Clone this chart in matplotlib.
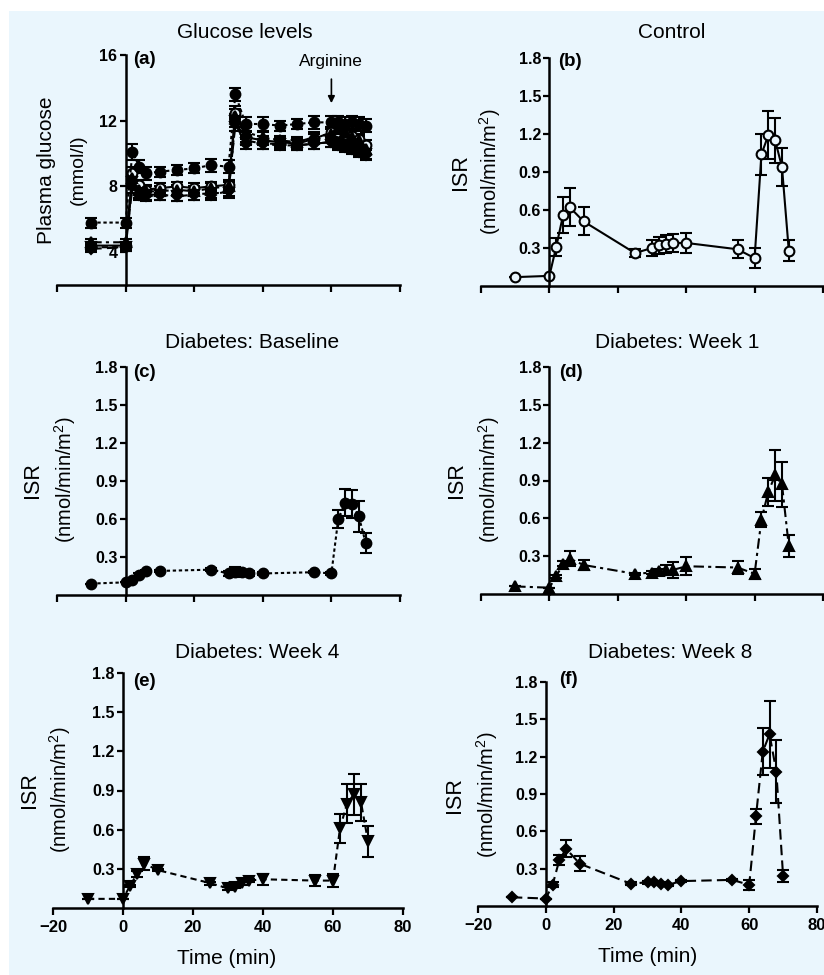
import matplotlib
matplotlib.use("Agg")
import matplotlib.pyplot as plt
from matplotlib.patches import Rectangle

plt.rcParams['font.family'] = ['Liberation Sans', 'DejaVu Sans']
plt.rcParams['mathtext.fontset'] = 'custom'
plt.rcParams['mathtext.rm'] = 'Liberation Sans'
plt.rcParams['mathtext.it'] = 'Liberation Sans:italic'

W, H = 824, 975
BG = '#EAF6FD'

# ---- glucose (panel a) ----
glu_time = [-10, 0, 2, 4, 6, 10, 15, 20, 25, 30, 32, 35, 40, 45, 50, 55, 60, 62, 64, 66, 68, 70]
glu_control = [4.4, 4.4, 8.8, 8.1, 7.8, 7.9, 8.0, 7.9, 8.0, 8.1, 12.5, 11.0, 10.8, 10.7, 10.6, 10.9, 11.3, 11.3, 11.2, 11.1, 10.9, 10.5]
glu_control_err = [0.2, 0.2, 0.4, 0.3, 0.3, 0.3, 0.3, 0.3, 0.3, 0.3, 0.4, 0.3, 0.3, 0.3, 0.3, 0.3, 0.3, 0.3, 0.3, 0.3, 0.3, 0.3]
glu_base = [5.8, 5.8, 10.1, 9.2, 8.8, 8.9, 9.0, 9.1, 9.3, 9.2, 13.6, 11.8, 11.8, 11.7, 11.8, 11.9, 11.9, 11.9, 11.8, 11.9, 11.8, 11.7]
glu_base_err = [0.3, 0.3, 0.5, 0.4, 0.4, 0.3, 0.3, 0.3, 0.4, 0.4, 0.4, 0.4, 0.4, 0.3, 0.3, 0.4, 0.4, 0.4, 0.4, 0.4, 0.4, 0.4]
glu_wk1 = [4.6, 4.6, 8.5, 7.8, 7.7, 7.7, 7.8, 7.7, 7.9, 8.0, 12.3, 11.3, 11.0, 10.8, 10.7, 11.0, 11.2, 11.5, 11.3, 11.0, 10.8, 10.3]
glu_wk1_err = [0.2, 0.2, 0.4, 0.3, 0.3, 0.3, 0.3, 0.3, 0.3, 0.3, 0.4, 0.3, 0.3, 0.3, 0.3, 0.3, 0.4, 0.4, 0.4, 0.4, 0.3, 0.3]
glu_wk4 = [4.3, 4.3, 8.3, 7.6, 7.5, 7.5, 7.4, 7.5, 7.6, 7.6, 12.0, 10.8, 10.6, 10.6, 10.5, 10.6, 10.7, 10.6, 10.5, 10.4, 10.2, 10.0]
glu_wk4_err = [0.2, 0.2, 0.4, 0.3, 0.3, 0.3, 0.3, 0.3, 0.3, 0.3, 0.4, 0.3, 0.3, 0.3, 0.3, 0.3, 0.3, 0.3, 0.3, 0.3, 0.3, 0.3]
glu_wk8 = [4.2, 4.3, 8.0, 7.5, 7.4, 7.5, 7.4, 7.5, 7.5, 7.7, 11.8, 10.6, 10.6, 10.5, 10.5, 10.6, 10.7, 10.5, 10.4, 10.3, 10.1, 9.9]
glu_wk8_err = [0.2, 0.2, 0.4, 0.3, 0.3, 0.3, 0.3, 0.3, 0.3, 0.3, 0.4, 0.3, 0.3, 0.3, 0.3, 0.3, 0.3, 0.3, 0.3, 0.3, 0.3, 0.3]

# ---- insulin secretion rate (panels b-f) ----
isr_time = [-10, 0, 2, 4, 6, 10, 25, 30, 32, 34, 36, 40, 55, 60, 62, 64, 66, 68, 70]
isr_control = [0.07, 0.08, 0.31, 0.56, 0.62, 0.51, 0.26, 0.30, 0.32, 0.33, 0.34, 0.34, 0.29, 0.22, 1.04, 1.19, 1.15, 0.94, 0.28]
isr_control_err = [0, 0, 0.07, 0.14, 0.15, 0.11, 0.03, 0.06, 0.07, 0.07, 0.07, 0.08, 0.07, 0.08, 0.16, 0.19, 0.18, 0.15, 0.08]
isr_base = [0.09, 0.10, 0.12, 0.16, 0.19, 0.19, 0.20, 0.17, 0.18, 0.18, 0.17, 0.17, 0.18, 0.17, 0.60, 0.73, 0.72, 0.62, 0.41]
isr_base_err = [0, 0, 0.01, 0.01, 0.01, 0.01, 0.01, 0.02, 0.04, 0.02, 0.02, 0.01, 0.01, 0.01, 0.07, 0.11, 0.11, 0.12, 0.08]
isr_wk1 = [0.06, 0.05, 0.14, 0.24, 0.28, 0.23, 0.16, 0.17, 0.18, 0.19, 0.19, 0.22, 0.21, 0.16, 0.59, 0.81, 0.94, 0.87, 0.38]
isr_wk1_err = [0, 0, 0.01, 0.02, 0.06, 0.04, 0.01, 0.01, 0.02, 0.04, 0.06, 0.07, 0.05, 0.04, 0.06, 0.11, 0.20, 0.18, 0.09]
isr_wk4 = [0.07, 0.07, 0.17, 0.26, 0.34, 0.29, 0.19, 0.15, 0.16, 0.19, 0.21, 0.22, 0.21, 0.21, 0.61, 0.80, 0.87, 0.81, 0.51]
isr_wk4_err = [0, 0, 0.01, 0.02, 0.05, 0.01, 0.01, 0.01, 0.01, 0.01, 0.01, 0.04, 0.04, 0.05, 0.11, 0.15, 0.16, 0.14, 0.12]
isr_wk8 = [0.07, 0.06, 0.17, 0.37, 0.46, 0.34, 0.18, 0.19, 0.19, 0.18, 0.17, 0.20, 0.21, 0.17, 0.72, 1.24, 1.38, 1.08, 0.24]
isr_wk8_err = [0, 0, 0.02, 0.04, 0.07, 0.06, 0.01, 0.01, 0.01, 0.01, 0.01, 0.01, 0.01, 0.04, 0.06, 0.19, 0.27, 0.25, 0.05]

x_ticks = [-20, 0, 20, 40, 60, 80]
isr_ticks = [0.3, 0.6, 0.9, 1.2, 1.5, 1.8]
glu_ticks = [4, 8, 12, 16]

# marker / line style per group
styles = {
    'control': dict(marker='o', ls='-', mfc=BG, ms=7),
    'base': dict(marker='o', ls=(0, (1.6, 1.3)), mfc='black', ms=7),
    'wk1': dict(marker='^', ls=(0, (5, 2, 1.5, 2)), mfc='black', ms=7),
    'wk4': dict(marker='v', ls=(0, (3, 2)), mfc='black', ms=7),
    'wk8': dict(marker='D', ls=(0, (5, 2.5)), mfc='black', ms=5.5),
}


def px_box(x0, x1, ytop, ybot):
    return [x0 / W, 1 - ybot / H, (x1 - x0) / W, (ybot - ytop) / H]


def ftext(x, y, s, **kw):
    fig.text(x / W, 1 - y / H, s, ha='center', va='center', **kw)


def style_axes(ax, ylo, yhi, yticks, show_x):
    ax.set_facecolor('none')
    ax.set_xlim(-20, 80)
    ax.set_ylim(ylo, yhi)
    ax.spines['top'].set_visible(False)
    ax.spines['right'].set_visible(False)
    ax.spines['left'].set_position(('data', 0))
    ax.spines['left'].set_bounds(ylo, yhi)
    for sp in ('left', 'bottom'):
        ax.spines[sp].set_linewidth(1.8)
    ax.set_xticks(x_ticks)
    ax.set_yticks(yticks)
    ax.tick_params(axis='x', direction='out', length=5, width=1.6,
                   labelbottom=show_x, labelsize=12, pad=4)
    ax.tick_params(axis='y', direction='out', length=4, width=1.6, labelsize=11.5, pad=2)
    for lab in ax.get_xticklabels() + ax.get_yticklabels():
        lab.set_fontweight('bold')


def draw(ax, t, v, e, key, capsize=4):
    st = styles[key]
    ax.errorbar(t, v, yerr=e, color='black', marker=st['marker'], ls=st['ls'],
                mfc=st['mfc'], mec='black', mew=1.5, ms=st['ms'], lw=1.5,
                elinewidth=1.5, capsize=capsize, capthick=1.5, clip_on=False)


fig = plt.figure(figsize=(W / 100, H / 100), dpi=100)
fig.patches.append(Rectangle((9 / W, 0), 1, 1 - 11 / H, transform=fig.transFigure,
                             facecolor=BG, edgecolor='none', zorder=-10))

# panel (a) - control first so the filled markers sit on top of it
ax = fig.add_axes(px_box(57, 400, 55, 285))
style_axes(ax, 2, 16, glu_ticks, False)
draw(ax, glu_time, glu_control, glu_control_err, 'control')
draw(ax, glu_time, glu_wk8, glu_wk8_err, 'wk8')
draw(ax, glu_time, glu_wk4, glu_wk4_err, 'wk4')
draw(ax, glu_time, glu_wk1, glu_wk1_err, 'wk1')
draw(ax, glu_time, glu_base, glu_base_err, 'base')
ax.annotate('', xy=(60, 12.9), xytext=(60, 14.7),
            arrowprops=dict(arrowstyle='-|>', color='black', lw=1.2, mutation_scale=10))
ax.text(60, 15.6, 'Arginine', ha='center', va='center', fontsize=12.5)

panels = [
    # key, values, err, box, show_x
    ('control', isr_control, isr_control_err, (481, 823, 58, 286), False),
    ('base', isr_base, isr_base_err, (57, 400, 367, 595), False),
    ('wk1', isr_wk1, isr_wk1_err, (481, 823, 367, 594), False),
    ('wk4', isr_wk4, isr_wk4_err, (53, 403, 673, 908), True),
    ('wk8', isr_wk8, isr_wk8_err, (478, 817, 682, 906), True),
]
for key, vals, errs, bx, show_x in panels:
    ax = fig.add_axes(px_box(*bx))
    style_axes(ax, 0, 1.8, isr_ticks, show_x)
    draw(ax, isr_time, vals, errs, key)

# titles
ftext(245, 33, 'Glucose levels', fontsize=15)
ftext(672, 33, 'Control', fontsize=15)
ftext(252, 342, 'Diabetes: Baseline', fontsize=15)
ftext(677, 342, 'Diabetes: Week 1', fontsize=15)
ftext(257, 653, 'Diabetes: Week 4', fontsize=15)
ftext(670, 653, 'Diabetes: Week 8', fontsize=15)

# panel letters
for lx, ly, s in [(133, 60, '(a)'), (558, 62, '(b)'), (133, 372, '(c)'),
                  (559, 372, '(d)'), (133, 682, '(e)'), (559, 680, '(f)')]:
    fig.text(lx / W, 1 - ly / H, s, ha='left', va='center', fontsize=13.5, fontweight='bold')

# y labels
ftext(47, 170, 'Plasma glucose', fontsize=15, rotation=90)
ftext(78, 170, '(mmol/l)', fontsize=14, rotation=90)
for x1, x2, yc in [(460, 490, 172), (33, 65, 480), (457, 489, 480), (30, 60, 790), (455, 487, 795)]:
    ftext(x1, yc, 'ISR', fontsize=15.5, rotation=90)
    ftext(x2, yc, '(nmol/min/m$^{2}$)', fontsize=14.5, rotation=90)

# x labels
ftext(227, 958, 'Time (min)', fontsize=15)
ftext(648, 957, 'Time (min)', fontsize=15)

fig.savefig('out.png', dpi=100)
